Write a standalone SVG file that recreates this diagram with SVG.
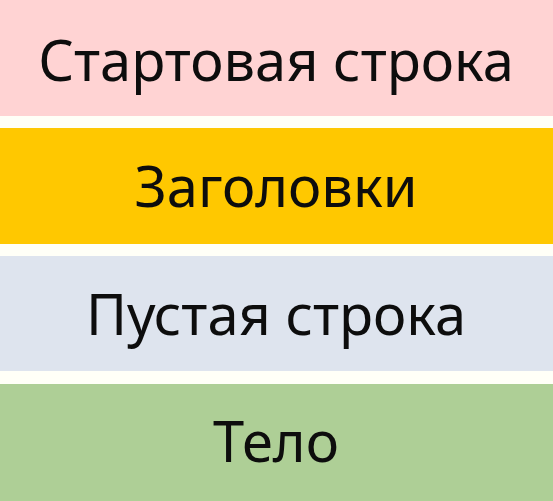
<svg xmlns="http://www.w3.org/2000/svg" width="553" height="501" viewBox="0 0 553 501">
<style>
.t{font-family:"Noto Sans","Open Sans",sans-serif;font-size:56px;fill:#0d0d0d;text-anchor:middle}
</style>
<rect width="553" height="501" fill="#FFFFF7"/>
<g id="start"><rect x="0" y="0" width="553" height="116" fill="#FFD3D3"/><text class="t" x="276" y="81">Стартовая строка</text></g>
<g id="headers"><rect x="0" y="128" width="553" height="116" fill="#FFC800"/><text class="t" x="276" y="207">Заголовки</text></g>
<g id="empty"><rect x="0" y="256" width="553" height="115" fill="#DEE4EE"/><text class="t" x="276" y="335">Пустая строка</text></g>
<g id="body"><rect x="0" y="384" width="553" height="117" fill="#AECF96"/><text class="t" x="276" y="462">Тело</text></g>
<g id="connectors"/>
</svg>
